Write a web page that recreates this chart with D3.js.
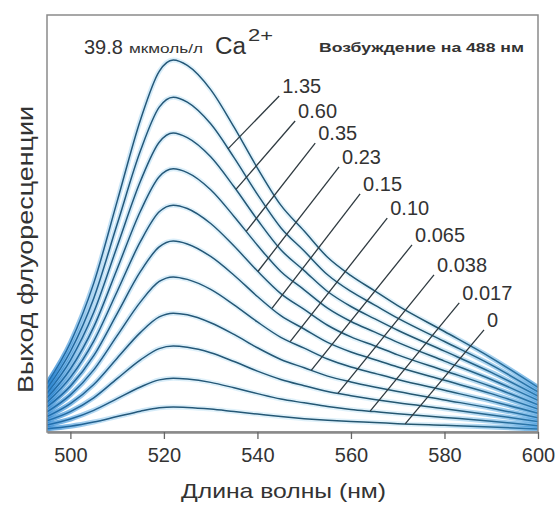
<!DOCTYPE html>
<html>
<head>
<meta charset="utf-8">
<script src="https://cdn.jsdelivr.net/npm/d3@7"></script>
<style>
  html, body { margin: 0; padding: 0; background: #fff; }
  text { font-family: "Liberation Sans", Arial, sans-serif; fill: #333; }
</style>
</head>
<body>
<div id="wrapper"></div>
<script>
// wavelengths (nm) where the spectra were read
const wavelengths = [495, 500, 505, 510, 515, 519, 522, 525, 530, 535, 540, 545, 550, 555, 560, 565, 570, 580, 590, 600];

// fluorescence (arb. units), one array per Ca2+ concentration
const curve398 = [11.6, 21.4, 35.7, 55.3, 74.9, 86.5, 89.2, 87.9, 82.1, 73.1, 63.3, 54.4, 48.2, 41.9, 37.5, 33.9, 30.3, 24.1, 17.8, 10.7];
const curve135 = [10.4, 19.3, 32.1, 49.8, 67.5, 77.9, 80.3, 79.1, 73.9, 65.8, 57.0, 49.0, 43.4, 37.7, 33.7, 30.5, 27.3, 21.7, 16.1, 9.6];
const curve060 = [9.3, 17.2, 28.7, 44.5, 60.2, 69.5, 71.7, 70.6, 66.0, 58.8, 50.9, 43.7, 38.7, 33.7, 30.1, 27.2, 24.4, 19.4, 14.3, 8.6];
const curve035 = [8.2, 15.1, 25.2, 39.1, 53.0, 61.2, 63.1, 62.2, 58.1, 51.7, 44.8, 38.5, 34.1, 29.7, 26.5, 24.0, 21.5, 17.0, 12.6, 7.6];
const curve023 = [7.1, 13.1, 21.8, 33.7, 45.7, 52.8, 54.4, 53.6, 50.0, 44.6, 38.6, 33.2, 29.4, 25.6, 22.8, 20.7, 18.5, 14.7, 10.9, 6.5];
const curve015 = [6.0, 11.0, 18.3, 28.4, 38.5, 44.4, 45.8, 45.1, 42.1, 37.6, 32.5, 27.9, 24.7, 21.5, 19.2, 17.4, 15.6, 12.4, 9.2, 5.5];
const curve010 = [4.8, 8.9, 14.9, 23.1, 31.2, 36.1, 37.2, 36.6, 34.2, 30.5, 26.4, 22.7, 20.1, 17.5, 15.6, 14.1, 12.6, 10.0, 7.4, 4.5];
const curve0065 = [3.7, 6.8, 11.4, 17.7, 23.9, 27.6, 28.5, 28.1, 26.2, 23.4, 20.2, 17.4, 15.4, 13.4, 12.0, 10.8, 9.7, 7.7, 5.7, 3.4];
const curve0038 = [2.7, 4.9, 8.2, 12.8, 17.3, 20.0, 20.6, 20.3, 19.0, 16.9, 14.6, 12.6, 11.1, 9.7, 8.7, 7.8, 7.0, 5.6, 4.1, 2.5];
const curve0017 = [1.7, 3.1, 5.2, 8.0, 10.8, 12.5, 12.9, 12.7, 11.9, 10.6, 9.2, 7.9, 7.0, 6.1, 5.4, 4.9, 4.4, 3.5, 2.6, 1.5];
const curve0 = [0.8, 1.4, 2.4, 3.7, 5.0, 5.8, 6.0, 5.9, 5.5, 4.9, 4.3, 3.7, 3.2, 2.8, 2.5, 2.3, 2.0, 1.6, 1.2, 0.7];

const curves = [curve398, curve135, curve060, curve035, curve023, curve015, curve010, curve0065, curve0038, curve0017, curve0];

// concentration labels (µmol/l) for curves 1..10, their anchor and where the leader hits the curve
const concLabels = ["1.35", "0.60", "0.35", "0.23", "0.15", "0.10", "0.065", "0.038", "0.017", "0"];
const labelWl = [545.3, 548.7, 553.0, 558.1, 562.6, 568.4, 573.7, 578.4, 583.8, 589.1];
const labelVal = [81.3, 75.3, 70.0, 64.3, 57.8, 52.0, 45.6, 38.4, 31.7, 25.2];
const leaderEndWl = [533.7, 535.4, 537.6, 540.1, 543.1, 547.0, 551.5, 557.2, 564.1, 571.6];

const xTicks = [500, 520, 540, 560, 580, 600];

function buildChart() {
  const width = 560;
  const height = 506;
  const margin = { top: 15, right: 22, bottom: 74, left: 47 };

  const svg = d3.select("#wrapper").append("svg")
    .attr("width", width)
    .attr("height", height);

  const x = d3.scaleLinear()
    .domain([495, 600])
    .range([margin.left, width - margin.right]);

  const y = d3.scaleLinear()
    .domain([0, 100])
    .range([height - margin.bottom, margin.top]);

  const line = d3.line()
    .x((d, i) => x(wavelengths[i]))
    .y(d => y(d))
    .curve(d3.curveMonotoneX);

  const defs = svg.append("defs");

  defs.append("clipPath").attr("id", "plot-clip")
    .append("rect")
    .attr("x", x(495)).attr("y", y(100))
    .attr("width", x(600) - x(495)).attr("height", y(0) - y(100));

  // halo is a stronger blue where the lines bunch up at both ends
  const haloGrad = defs.append("linearGradient")
    .attr("id", "halo-grad")
    .attr("gradientUnits", "userSpaceOnUse")
    .attr("x1", x(495)).attr("x2", x(600))
    .attr("y1", 0).attr("y2", 0);
  haloGrad.append("stop").attr("offset", "0%").attr("stop-color", "#1f7fd0").attr("stop-opacity", 0.75);
  haloGrad.append("stop").attr("offset", "12%").attr("stop-color", "#5aaee6").attr("stop-opacity", 0.35);
  haloGrad.append("stop").attr("offset", "30%").attr("stop-color", "#9ad3f0").attr("stop-opacity", 0.3);
  haloGrad.append("stop").attr("offset", "75%").attr("stop-color", "#9ad3f0").attr("stop-opacity", 0.3);
  haloGrad.append("stop").attr("offset", "100%").attr("stop-color", "#3f98dc").attr("stop-opacity", 0.7);

  const lineGrad = defs.append("linearGradient")
    .attr("id", "line-grad")
    .attr("gradientUnits", "userSpaceOnUse")
    .attr("x1", x(495)).attr("x2", x(600))
    .attr("y1", 0).attr("y2", 0);
  lineGrad.append("stop").attr("offset", "0%").attr("stop-color", "#1f6fb0");
  lineGrad.append("stop").attr("offset", "15%").attr("stop-color", "#24587a");
  lineGrad.append("stop").attr("offset", "80%").attr("stop-color", "#24566e");
  lineGrad.append("stop").attr("offset", "100%").attr("stop-color", "#2a78b0");

  const plot = svg.append("g").attr("clip-path", "url(#plot-clip)");

  plot.selectAll(".halo")
    .data(curves)
    .join("path")
    .attr("class", "halo")
    .attr("d", line)
    .attr("fill", "none")
    .attr("stroke", "url(#halo-grad)")
    .attr("stroke-width", 5);

  plot.selectAll(".spectrum")
    .data(curves)
    .join("path")
    .attr("class", "spectrum")
    .attr("d", line)
    .attr("fill", "none")
    .attr("stroke", "url(#line-grad)")
    .attr("stroke-width", 1.5);

  // value of a curve at a wavelength (linear between read points)
  function valueAt(curve, wl) {
    const i = Math.max(1, d3.bisectLeft(wavelengths, wl));
    const t = (wl - wavelengths[i - 1]) / (wavelengths[i] - wavelengths[i - 1]);
    return curve[i - 1] + t * (curve[i] - curve[i - 1]);
  }

  // leader lines
  svg.selectAll(".leader")
    .data(concLabels)
    .join("line")
    .attr("class", "leader")
    .attr("x1", (d, i) => x(labelWl[i]) - 3)
    .attr("y1", (d, i) => y(labelVal[i]) + 3)
    .attr("x2", (d, i) => x(leaderEndWl[i]))
    .attr("y2", (d, i) => y(valueAt(curves[i + 1], leaderEndWl[i])))
    .attr("stroke", "#2f3a40")
    .attr("stroke-width", 1.3);

  svg.selectAll(".conc")
    .data(concLabels)
    .join("text")
    .attr("class", "conc")
    .attr("x", (d, i) => x(labelWl[i]))
    .attr("y", (d, i) => y(labelVal[i]))
    .attr("font-size", 20)
    .text(d => d);

  // frame
  svg.append("rect")
    .attr("x", x(495)).attr("y", y(100))
    .attr("width", x(600) - x(495)).attr("height", y(0) - y(100))
    .attr("fill", "none")
    .attr("stroke", "#8a8a8a")
    .attr("stroke-width", 1.5);

  // bottom axis
  const xAxis = svg.append("g")
    .attr("transform", `translate(0,${y(0)})`)
    .call(d3.axisBottom(x).tickValues(xTicks).tickSize(7).tickSizeOuter(0).tickPadding(9));
  xAxis.select(".domain").attr("stroke", "#8a8a8a").attr("stroke-width", 2.5);
  xAxis.selectAll(".tick line").attr("stroke", "#666").attr("stroke-width", 1.3);
  xAxis.selectAll(".tick text")
    .attr("font-size", 20)
    .attr("font-family", "Liberation Sans, Arial, sans-serif")
    .attr("fill", "#333");

  svg.append("text")
    .attr("x", 181)
    .attr("y", 498)
    .attr("font-size", 21)
    .attr("textLength", 205)
    .attr("lengthAdjust", "spacingAndGlyphs")
    .text("Длина волны (нм)");

  svg.append("text")
    .attr("transform", `translate(33,${393}) rotate(-90)`)
    .attr("font-size", 22)
    .attr("textLength", 287)
    .attr("lengthAdjust", "spacingAndGlyphs")
    .text("Выход флуоресценции");

  // header inside the frame
  svg.append("text").attr("x", 84).attr("y", 54).attr("font-size", 20).text("39.8");
  svg.append("text").attr("x", 129).attr("y", 53).attr("font-size", 12)
    .attr("textLength", 74).attr("lengthAdjust", "spacingAndGlyphs").text("мкмоль/л");
  svg.append("text").attr("x", 215).attr("y", 54).attr("font-size", 23)
    .attr("textLength", 31).attr("lengthAdjust", "spacingAndGlyphs").text("Ca");
  svg.append("text").attr("x", 248).attr("y", 41).attr("font-size", 17)
    .attr("textLength", 25).attr("lengthAdjust", "spacingAndGlyphs").text("2+");

  svg.append("text")
    .attr("x", 319)
    .attr("y", 52)
    .attr("font-family", "DejaVu Sans, sans-serif")
    .attr("font-weight", "bold")
    .attr("font-size", 12.5)
    .attr("textLength", 205)
    .attr("lengthAdjust", "spacingAndGlyphs")
    .attr("fill", "#222")
    .text("Возбуждение на 488 нм");
}

buildChart();
</script>
</body>
</html>
